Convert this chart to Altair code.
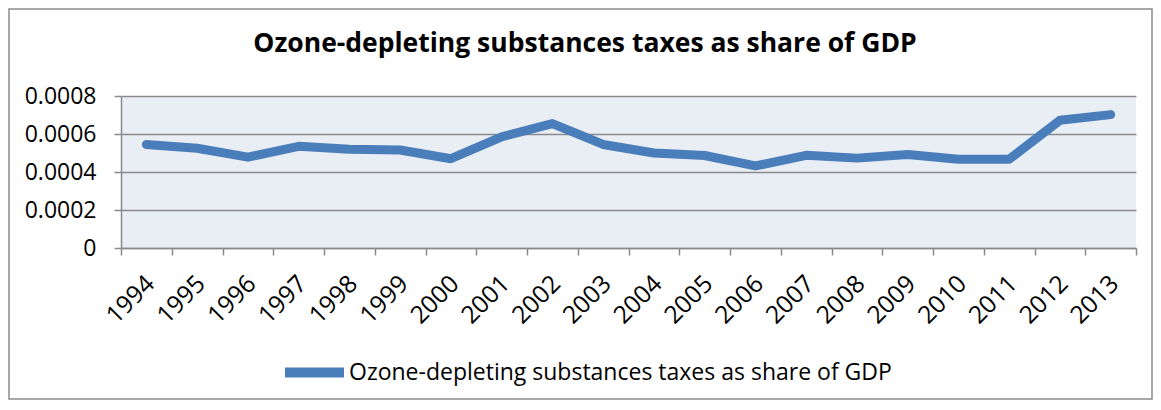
import altair as alt
import pandas as pd

years = [str(y) for y in range(1994, 2014)]
values = [0.000545, 0.000525, 0.000478, 0.000535, 0.000520, 0.000516, 0.000470,
          0.000585, 0.000655, 0.000545, 0.000500, 0.000487, 0.000432, 0.000488,
          0.000473, 0.000492, 0.000467, 0.000467, 0.000672, 0.000702]
series_name = "Ozone-depleting substances taxes as share of GDP"
title_text = "Ozone-depleting substances taxes as share of GDP"
y_ticks = [0, 0.0002, 0.0004, 0.0006, 0.0008]

df = pd.DataFrame({"year": years, "value": values, "series": series_name})

FONT = "Open Sans"
GRID = "#8a8a8a"

line = alt.Chart(df).mark_line(
    strokeWidth=9, strokeCap="round", strokeJoin="round"
).encode(
    x=alt.X("year:O", scale=alt.Scale(type="band", paddingInner=0, paddingOuter=0),
            axis=alt.Axis(title=None, labelAngle=-45, labelAlign="right",
                          labelBaseline="middle", labelFontSize=24.5, labelPadding=25,
                          labelOffset=4,
                          tickBand="extent", tickSize=7, tickColor=GRID, tickWidth=1.5,
                          domainColor=GRID, domainWidth=1.5, grid=False,
                          labelColor="#000000", labelFont=FONT)),
    y=alt.Y("value:Q", scale=alt.Scale(domain=[0, 0.0008]),
            axis=alt.Axis(title=None, values=y_ticks, format=".4~f",
                          labelFontSize=23, labelPadding=18, tickSize=7,
                          tickColor=GRID, tickWidth=1.5, domainColor=GRID,
                          domainWidth=1.5, gridColor=GRID, gridWidth=1.5,
                          labelColor="#000000", labelFont=FONT)),
    color=alt.Color("series:N", scale=alt.Scale(range=["#4A7EBB"]),
                    legend=alt.Legend(title=None, orient="none", legendX=159, legendY=242,
                                      symbolType="stroke", symbolSize=3481,
                                      symbolStrokeWidth=10, labelFontSize=23,
                                      labelFont=FONT, labelColor="#000000",
                                      labelOffset=0, padding=0, labelLimit=0)),
)

title = alt.Chart(alt.Data(values=[{}])).mark_text(
    text=title_text, font=FONT, fontSize=26.5, fontWeight="bold", color="#000000",
    align="center", baseline="alphabetic"
).encode(x=alt.value(464), y=alt.value(-44))

border = alt.Chart(alt.Data(values=[{}])).mark_rect(
    fill=None, stroke="#8c8c8c", strokeWidth=1.5
).encode(
    x=alt.value(-112), x2=alt.value(1031), y=alt.value(-87), y2=alt.value(303)
)

chart = alt.layer(border, title, line).properties(
    width=1015, height=152,
    padding={"left": 113, "top": 88, "right": 17, "bottom": 152},
    autosize=alt.AutoSizeParams(type="none"),
).configure_view(
    fill="#E9EDF4", stroke=None
)

chart.save("out.html", embed_options={"renderer": "svg", "actions": False})
